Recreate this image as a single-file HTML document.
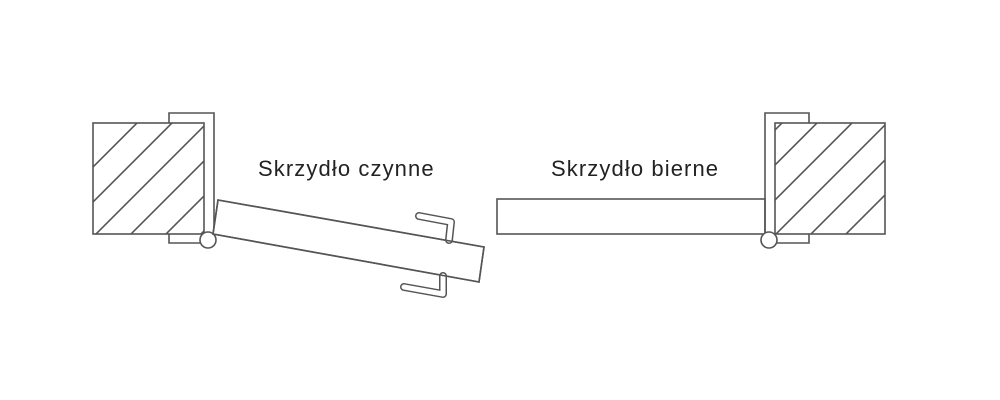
<!DOCTYPE html>
<html><head><style>body{margin:0;background:#fff}svg{display:block}</style></head>
<body>
<svg width="1000" height="400" viewBox="0 0 1000 400" xmlns="http://www.w3.org/2000/svg">
<defs>
<clipPath id="cl"><rect x="93" y="123" width="111" height="111"/></clipPath>
<clipPath id="cr"><rect x="775" y="123" width="110" height="111"/></clipPath>
</defs>
<g fill="none" stroke="#555" stroke-width="1.6">
<!-- left -->
<rect x="93" y="123" width="111" height="111"/>
<g clip-path="url(#cl)">
<line x1="60" y1="270" x2="230" y2="100"/><line x1="95" y1="270" x2="265" y2="100"/><line x1="130" y1="270" x2="300" y2="100"/><line x1="165" y1="270" x2="335" y2="100"/><line x1="25" y1="270" x2="195" y2="100"/><line x1="-10" y1="270" x2="160" y2="100"/>
</g>
<path d="M169,123 V113 H214 V234"/>
<path d="M169,234 V243 H200"/>
<circle cx="208" cy="240" r="8" fill="#fff"/>
<polygon points="218,200 484,247 479,282 213,234" fill="#fff"/>
<g stroke-linejoin="round" stroke-linecap="round">
<polyline points="419,216 451,222 449,240" stroke="#555" stroke-width="8"/>
<polyline points="419,216 451,222 449,240" stroke="#fff" stroke-width="5"/>
<polyline points="404,287 443,294 443,276" stroke="#555" stroke-width="8"/>
<polyline points="404,287 443,294 443,276" stroke="#fff" stroke-width="5"/>
</g>
<polygon points="218,200 484,247 479,282 213,234"/>
<!-- right -->
<rect x="497" y="199" width="268" height="35" fill="#fff"/>
<rect x="775" y="123" width="110" height="111"/>
<g clip-path="url(#cr)">
<line x1="740" y1="270" x2="910" y2="100"/><line x1="775" y1="270" x2="945" y2="100"/><line x1="810" y1="270" x2="980" y2="100"/><line x1="705" y1="270" x2="875" y2="100"/><line x1="670" y1="270" x2="840" y2="100"/><line x1="635" y1="270" x2="805" y2="100"/>
</g>
<path d="M765,234 V113 H809 V123"/>
<path d="M809,234 V243 H777"/>
<circle cx="769" cy="240" r="8" fill="#fff"/>
</g>
<g font-family="Liberation Sans, sans-serif" font-size="22" fill="#222" letter-spacing="1.1">
<text x="258" y="176">Skrzydło czynne</text>
<text x="551" y="176">Skrzydło bierne</text>
</g>
</svg>
</body></html>
